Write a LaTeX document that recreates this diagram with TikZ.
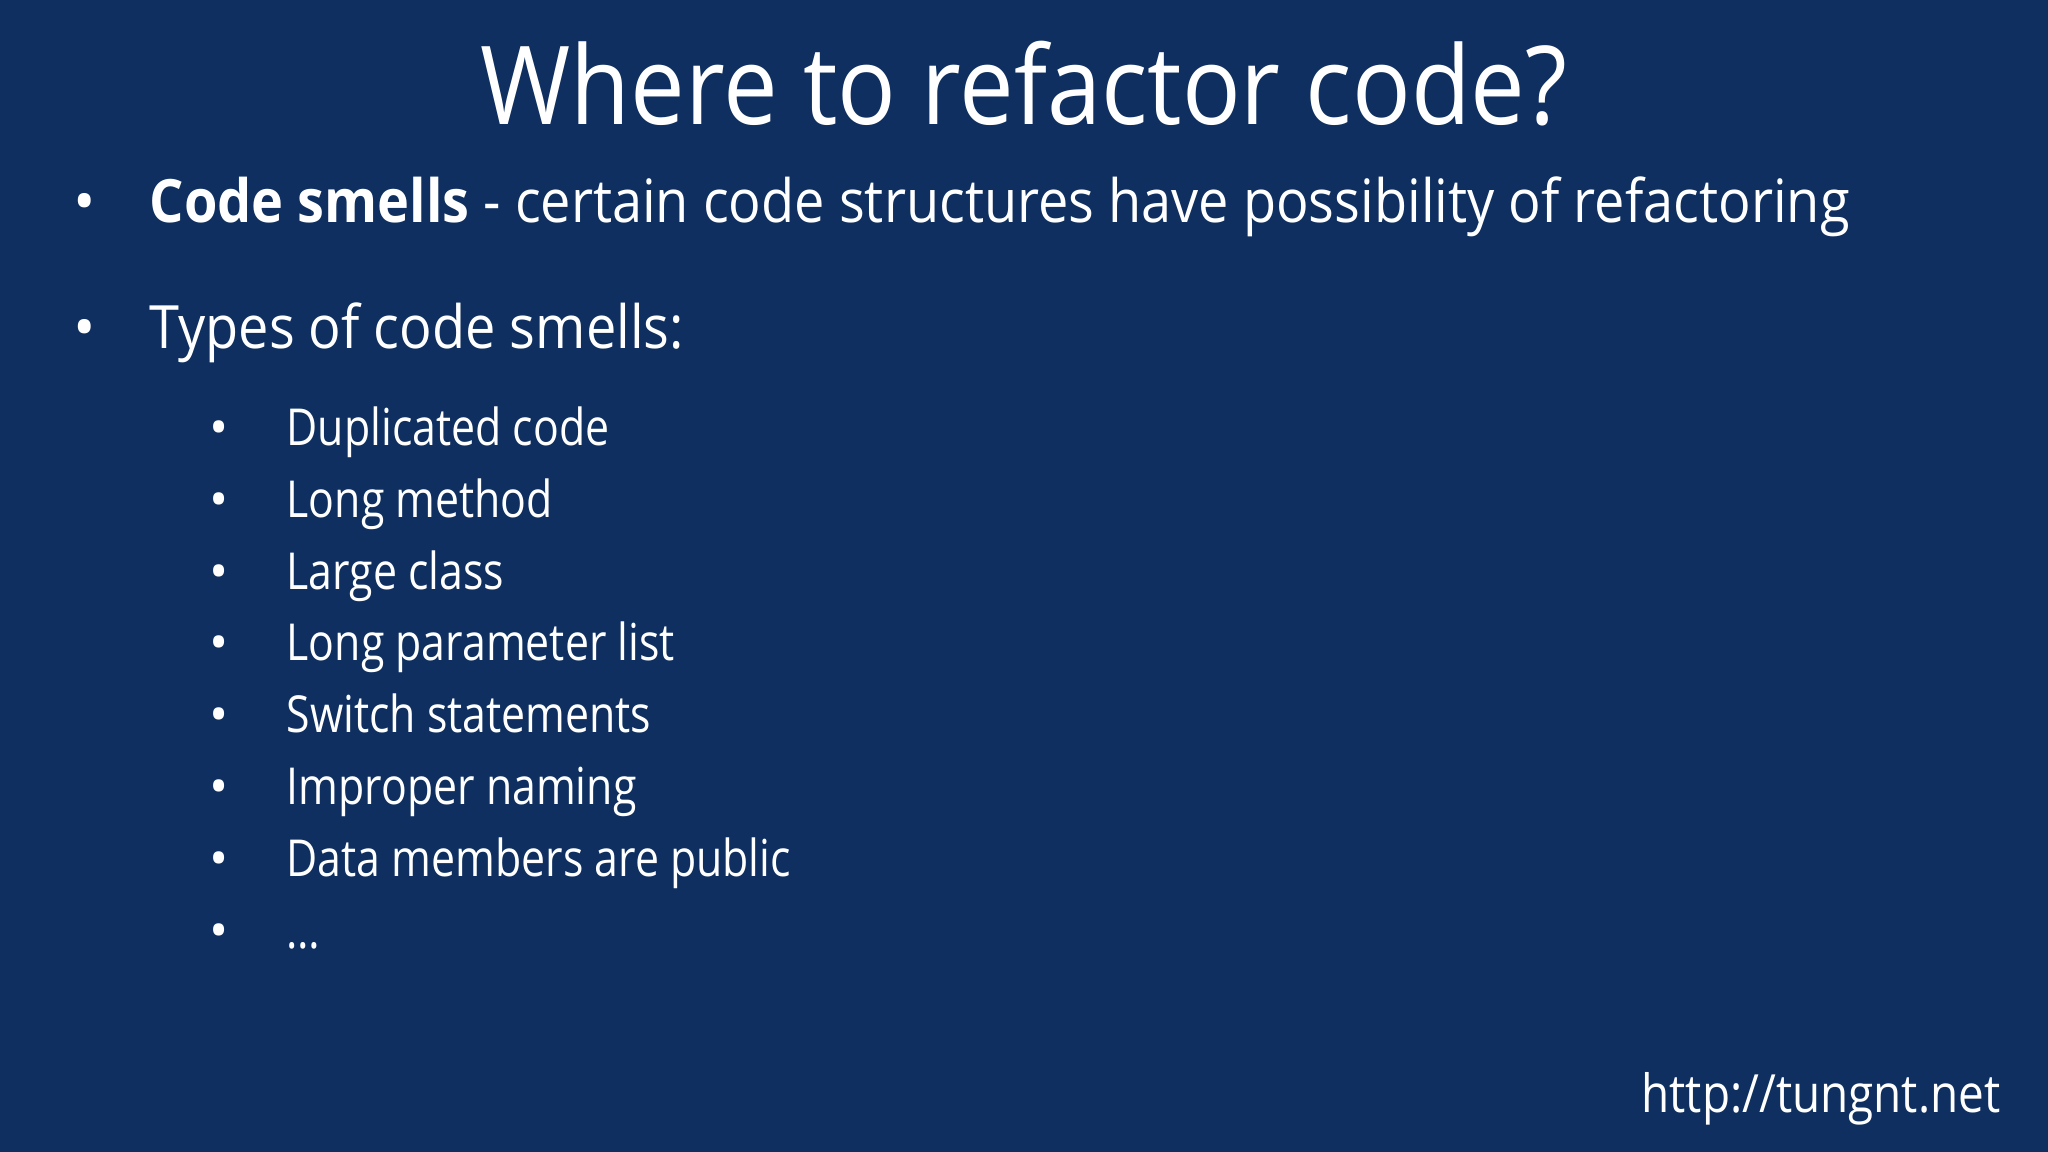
\documentclass[tikz,border=0pt]{standalone}
\usepackage{fontspec}
\setmainfont{Open Sans}
\definecolor{bg}{HTML}{0E2F5F}
\newcommand{\sqz}[2]{\scalebox{#1}[1]{#2}}
\begin{document}
\begin{tikzpicture}[x=0.01306cm,y=-0.01306cm,
  txt/.style={text=white,anchor=base west,inner sep=0pt},
  top/.style={txt,font=\fontsize{17}{20}\selectfont},
  sub/.style={txt,font=\fontsize{14.5}{17}\selectfont}]
\fill[bg] (0,0) rectangle (1568,882);
\useasboundingbox (0,0) rectangle (1568,882);
\node[text=white,anchor=base,inner sep=0pt,font=\fontsize{31}{36}\selectfont] (title) at (784,95) {\sqz{0.894}{Where to refactor code?}};
\node[top] (b1) at (56,170) {•};
\node[top] (t1) at (114,170) {\sqz{0.905}{\textbf{Code smells} - certain code structures have possibility of refactoring}};
\node[top] (b2) at (56,267) {•};
\node[top] (t2) at (114,267) {\sqz{0.905}{Types of code smells:}};
\foreach \t [count=\i] in {Duplicated code,Long method,Large class,Long parameter list,Switch statements,Improper naming,Data members are public,{\ldots}}{
  \node[sub] (sb\i) at (160,{341+55*(\i-1)}) {•};
  \node[sub] (s\i) at (219,{341+55*(\i-1)}) {\sqz{0.84}{\t}};
}
\node[txt,anchor=base east,font=\fontsize{15}{18}\selectfont] (url) at (1532,852) {\sqz{0.87}{http://tungnt.net}};
\end{tikzpicture}
\end{document}
